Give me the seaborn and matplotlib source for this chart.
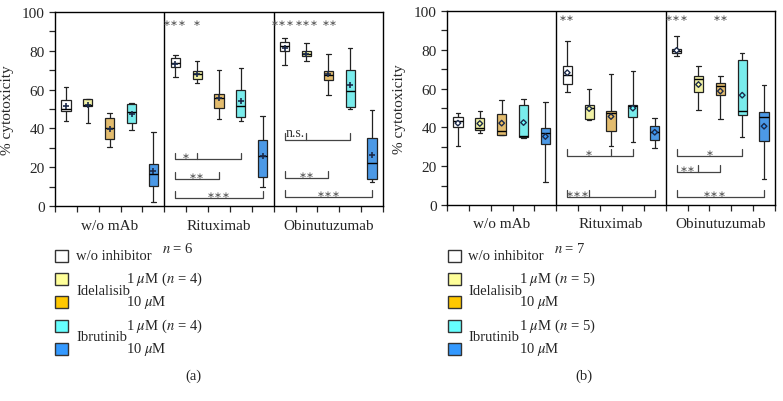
import numpy as np
import pandas as pd
import matplotlib
matplotlib.use("Agg")
import matplotlib.pyplot as plt
import seaborn as sns
from matplotlib.patches import Rectangle
from matplotlib.ticker import MultipleLocator

# categories
groups = ["w/o mAb", "Rituximab", "Obinutuzumab"]
inhibitors = ["w/o inhibitor", "Idelalisib 1", "Idelalisib 10", "Ibrutinib 1", "Ibrutinib 10"]
box_colors = ["#FFFFFF", "#FFFF99", "#F7C25A", "#66FFFF", "#3399FF"]
legend_colors = ["#FFFFFF", "#FFFF99", "#FFC800", "#66FFFF", "#3399FF"]

# panel (a), n = 6  (15 boxes: 3 mAb groups x 5 inhibitor conditions)
a_whislo = [43.6, 42.6, 30.2, 39.1, 2.1, 66.7, 63.6, 44.7, 43.6, 10.0, 72.6, 75.0, 57.2, 50.0, 12.6]
a_q1 = [48.8, 51.5, 34.7, 42.8, 10.3, 71.9, 65.3, 50.3, 45.7, 15.0, 79.8, 77.2, 65.0, 51.2, 14.1]
a_med = [49.8, 52.2, 40.2, 48.3, 16.7, 73.8, 67.8, 55.7, 51.6, 25.9, 82.5, 78.4, 67.6, 59.1, 22.1]
a_q3 = [54.8, 55.0, 45.5, 52.6, 21.9, 76.2, 69.8, 57.9, 59.7, 33.8, 84.3, 79.7, 69.8, 70.2, 35.0]
a_whishi = [61.2, 55.3, 47.8, 53.1, 38.3, 77.6, 74.7, 70.3, 71.0, 46.2, 86.7, 83.8, 78.1, 81.4, 49.3]
a_mean = [51.7, 52.3, 39.7, 47.2, 17.8, 73.4, 68.1, 55.5, 54.3, 25.9, 81.7, 78.6, 67.9, 62.4, 26.2]

# panel (b), n = 7
b_whislo = [30.5, 37.2, 36.0, 34.6, 11.7, 58.2, 44.0, 30.5, 32.7, 29.6, 76.8, 49.2, 44.2, 34.9, 13.4]
b_q1 = [40.4, 38.9, 36.0, 34.8, 31.7, 62.3, 44.1, 38.4, 45.3, 33.6, 78.3, 58.3, 56.8, 46.3, 32.9]
b_med = [43.2, 39.5, 38.2, 35.6, 37.0, 67.0, 49.9, 47.3, 50.9, 37.7, 79.5, 64.9, 61.4, 48.2, 45.6]
b_q3 = [45.6, 44.9, 46.8, 51.8, 39.8, 71.9, 51.5, 48.4, 51.3, 40.6, 80.2, 66.6, 63.0, 74.5, 47.8]
b_whishi = [47.3, 48.2, 54.0, 54.6, 53.0, 84.5, 59.6, 67.3, 69.0, 44.6, 87.1, 71.6, 66.6, 78.3, 62.0]
b_mean = [42.2, 42.0, 42.2, 42.5, 35.3, 68.2, 49.7, 45.6, 49.9, 37.5, 79.7, 62.1, 58.7, 56.6, 40.6]

# significance vs. w/o inhibitor (top) and brackets: (start box, end box, y, label, label box, mid tick box)
a_top = [(5, "∗∗∗"), (6, "∗"), (9.9, "∗∗∗"), (11, "∗∗∗"), (12.05, "∗∗")]
a_brackets = [(5, 8, 24.0, "∗", 5.5, 6), (5, 7, 13.8, "∗∗", 6.0, None), (5, 9, 4.3, "∗∗∗", 7.0, None),
              (10, 13, 34.1, "n.s.", 10.5, 11), (10, 12, 14.3, "∗∗", 11.0, None),
              (10, 14, 4.7, "∗∗∗", 12.0, None)]
b_top = [(5, "∗∗"), (10, "∗∗∗"), (12, "∗∗")]
b_brackets = [(5, 8, 25.3, "∗", 6.0, 7), (5, 9, 4.0, "∗∗∗", 5.5, 6),
              (10, 13, 25.3, "∗", 11.5, None), (10, 12, 16.9, "∗∗", 10.5, 11),
              (10, 14, 4.0, "∗∗∗", 11.75, None)]

sns.set_style("ticks")
plt.rcParams["font.family"] = ["Liberation Serif", "DejaVu Sans"]
plt.rcParams["mathtext.fontset"] = "stix"

W, H = 783, 402
fig = plt.figure(figsize=(W / 100, H / 100), dpi=100)


def to_long(whislo, q1, med, q3, whishi):
    rows = []
    for i in range(15):
        for v in (whislo[i], q1[i], med[i], q3[i], whishi[i]):
            rows.append({"pos": i, "inhibitor": inhibitors[i % 5], "value": v})
    return pd.DataFrame(rows)


def draw_panel(rect, stats, means, mean_marker, top, brackets, top_y):
    ax = fig.add_axes(rect)
    df = to_long(*stats)
    sns.boxplot(data=df, x="pos", y="value", hue="inhibitor", hue_order=inhibitors,
                palette=box_colors, dodge=False, native_scale=True, width=0.42,
                whis=(0, 100), showfliers=False, linecolor="#222222", linewidth=0.9,
                medianprops=dict(color="black", linewidth=1.0), legend=False, ax=ax)
    pos = np.arange(15)
    if mean_marker == "+":
        sns.scatterplot(x=pos, y=means, marker="+", color="#1b2a4a", s=24, linewidth=1.2,
                        ax=ax, zorder=5, legend=False)
    else:
        sns.scatterplot(x=pos, y=means, hue=[inhibitors[i % 5] for i in pos], hue_order=inhibitors,
                        palette=box_colors, marker="D", s=8, edgecolor="#1b2a4a", linewidth=1.0,
                        ax=ax, zorder=5, legend=False)

    ax.set_xlim(-0.5, 14.5)
    ax.set_ylim(0, 100)
    ax.set_xticks(np.arange(-0.5, 15, 1))
    ax.set_xticklabels([])
    ax.set_xticks([2, 7, 12], groups, minor=True)
    ax.tick_params(axis="x", which="major", length=4, width=0.9, direction="out")
    ax.tick_params(axis="x", which="minor", length=0, pad=9, labelsize=11)
    ax.set_yticks(range(0, 101, 20))
    ax.yaxis.set_minor_locator(MultipleLocator(10))
    ax.tick_params(axis="y", which="both", length=4, width=0.9, direction="out", labelsize=11)
    ax.set_xlabel("")
    ax.set_ylabel("% cytotoxicity", fontsize=11)
    ax.yaxis.set_label_coords(-0.125, 0.5)
    for s in ax.spines.values():
        s.set_visible(True)
        s.set_linewidth(1.0)
        s.set_color("black")
    ax.axvline(4.5, color="black", lw=1.0)
    ax.axvline(9.5, color="black", lw=1.0)

    for i, lab in top:
        ax.text(i, top_y, lab, ha="center", va="center", fontsize=6.8, color="#555555",
                family="DejaVu Sans")
    for i0, i1, y, lab, lx, mid in brackets:
        ax.plot([i0, i0, i1, i1], [y + 3.5, y, y, y + 3.5], color="#444444", lw=0.9)
        if mid is not None:
            ax.plot([mid, mid], [y, y + 3.5], color="#444444", lw=0.9)
        if lab == "n.s.":
            ax.text(lx, y + 0.4, lab, ha="center", va="bottom", fontsize=10, color="#333333")
        else:
            ax.text(lx, y + 1.8, lab, ha="center", va="center", fontsize=6.8, color="#555555",
                    family="DejaVu Sans")
    return ax


def fx(x):
    return x / W


def fy(y):
    return 1 - y / H


def draw_legend(x_sq, x_txt, x_dose, n_total, n_low, x_n, x_tag, tag):
    rows_y = [257, 280, 303, 326.5, 349.5]
    for c, yc in zip(legend_colors, rows_y):
        fig.add_artist(Rectangle((fx(x_sq), fy(yc + 6)), 13 / W, 12 / H, transform=fig.transFigure,
                                 facecolor=c, edgecolor="#333333", lw=1.0))
    fs = 10.5
    fig.text(fx(x_txt), fy(257), "w/o inhibitor", ha="left", va="center", fontsize=fs)
    fig.text(fx(x_txt), fy(291.5), "Idelalisib", ha="left", va="center", fontsize=fs)
    fig.text(fx(x_txt), fy(337.5), "Ibrutinib", ha="left", va="center", fontsize=fs)
    for yc in (279, 326):
        fig.text(fx(x_dose), fy(yc), "1 $\\mu$M ($n$ = %d)" % n_low, ha="left", va="center", fontsize=fs)
    for yc in (303, 349.5):
        fig.text(fx(x_dose), fy(yc), "10 $\\mu$M", ha="left", va="center", fontsize=fs)
    fig.text(fx(x_n), fy(249), "$n$ = %d" % n_total, ha="center", va="center", fontsize=fs)
    fig.text(fx(x_tag), fy(376), tag, ha="center", va="center", fontsize=fs)


draw_panel([fx(55), fy(207), (383 - 55) / W, (207 - 13) / H],
           (a_whislo, a_q1, a_med, a_q3, a_whishi), a_mean, "+", a_top, a_brackets, 94.5)
draw_panel([fx(447), fy(206), (775 - 447) / W, (206 - 12) / H],
           (b_whislo, b_q1, b_med, b_q3, b_whishi), b_mean, "D", b_top, b_brackets, 96.5)

draw_legend(55, 76, 126, 6, 4, 178, 193, "(a)")
draw_legend(448, 468, 519, 7, 5, 570, 584, "(b)")

fig.savefig("out.png", dpi=100)
